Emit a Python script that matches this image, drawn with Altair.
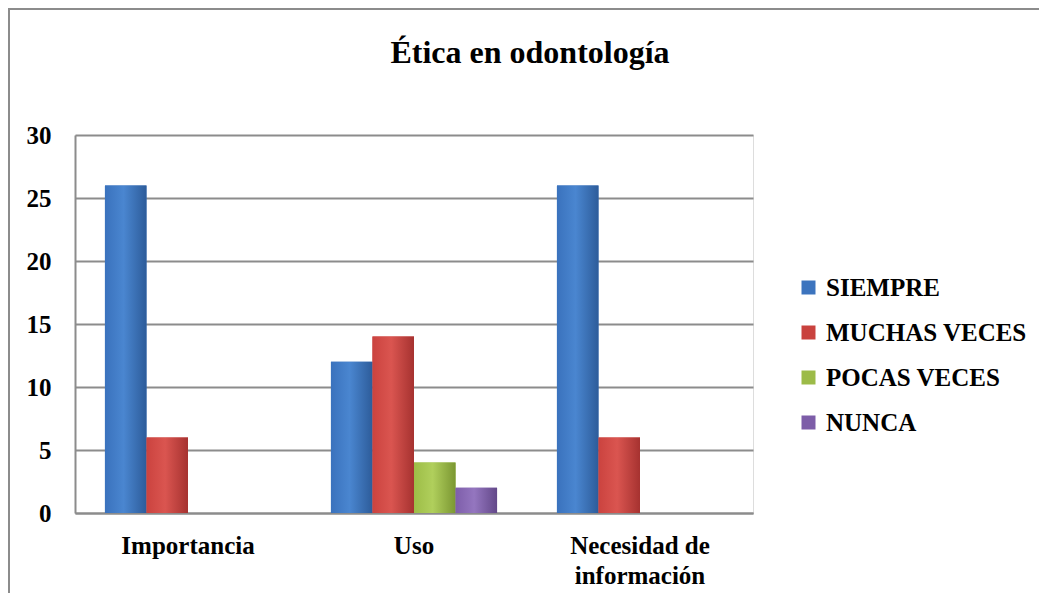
import altair as alt
import pandas as pd

categories = ["Importancia", "Uso", "Necesidad de información"]
series = ["SIEMPRE", "MUCHAS VECES", "POCAS VECES", "NUNCA"]
siempre = [26, 12, 26]
muchas_veces = [6, 14, 6]
pocas_veces = [0, 4, 0]
nunca = [0, 2, 0]
y_ticks = [0, 5, 10, 15, 20, 25, 30]
title_text = "Ética en odontología"

colors = ["#3C74BE", "#C9423E", "#9CBB48", "#7D5DA8"]
gradients = [
    ["#3A72BD", "#4A86D0", "#2D5C9A"],
    ["#CB433F", "#DA5550", "#A63230"],
    ["#9DBD47", "#B0CF5C", "#7B9732"],
    ["#7E5EAA", "#9476BF", "#634889"],
]

rows = []
for s, vals in zip(series, [siempre, muchas_veces, pocas_veces, nunca]):
    for c, v in zip(categories, vals):
        rows.append({"categoria": c, "serie": s, "valor": v})
df = pd.DataFrame(rows)

FONT = "Times New Roman"

x_enc = alt.X(
    "categoria:N",
    sort=categories,
    scale=alt.Scale(paddingInner=0.265, paddingOuter=0.1325),
    axis=alt.Axis(
        title=None,
        labelAngle=0,
        labelFont=FONT,
        labelFontSize=25,
        labelFontWeight="bold",
        labelColor="#000000",
        labelPadding=20,
        labelLineHeight=30,
        labelBaseline="top",
        labelLimit=0,
        labelExpr="datum.label == 'Necesidad de información' ? ['Necesidad de', 'información'] : datum.label",
        ticks=False,
        domainColor="#8c8c8c",
        domainWidth=2,
        grid=False,
    ),
)
xo_enc = alt.XOffset("serie:N", sort=series, scale=alt.Scale(domain=series, paddingInner=0, paddingOuter=0))
y_enc = alt.Y(
    "valor:Q",
    scale=alt.Scale(domain=[0, 30], nice=False),
    axis=alt.Axis(
        title=None,
        values=y_ticks,
        labelFont=FONT,
        labelFontSize=25,
        labelFontWeight="bold",
        labelColor="#000000",
        labelPadding=24,
        ticks=False,
        domainColor="#8c8c8c",
        domainWidth=2,
        gridColor="#8c8c8c",
        gridWidth=2,
    ),
)

base = alt.Chart(df).mark_bar().encode(
    x=x_enc,
    xOffset=xo_enc,
    y=y_enc,
    color=alt.Color(
        "serie:N",
        sort=series,
        scale=alt.Scale(domain=series, range=colors),
        legend=alt.Legend(
            title=None,
            orient="none",
            legendX=721,
            legendY=140,
            symbolType="square",
            symbolSize=196,
            symbolStrokeWidth=0,
            labelFont=FONT,
            labelFontSize=25,
            labelFontWeight="bold",
            labelColor="#000000",
            labelOffset=5,
            labelLimit=0,
            rowPadding=19,
            padding=0,
        ),
    ),
)

layers = [base]
for s, g in zip(series, gradients):
    grad = alt.Gradient(
        gradient="linear",
        x1=0, x2=1, y1=0, y2=0,
        stops=[
            alt.GradientStop(offset=0, color=g[0]),
            alt.GradientStop(offset=0.45, color=g[1]),
            alt.GradientStop(offset=1, color=g[2]),
        ],
    )
    layers.append(
        alt.Chart(df)
        .transform_filter(alt.datum.serie == s)
        .mark_bar(color=grad)
        .encode(x=x_enc, xOffset=xo_enc, y=y_enc)
    )

single = pd.DataFrame({"t": [title_text]})

border = alt.Chart(single).mark_rect(
    fill="transparent", stroke="#8c8c8c", strokeWidth=2
).encode(
    x=alt.value(-66), x2=alt.value(1100), y=alt.value(-126), y2=alt.value(700)
)

title = alt.Chart(single).mark_text(
    font=FONT, fontSize=32, fontWeight="bold", color="#000000",
    align="center", baseline="alphabetic",
).encode(
    x=alt.value(455), y=alt.value(-72), text="t:N"
)

chart = (
    alt.layer(*layers, border, title)
    .properties(
        width=678,
        height=378,
        autosize=alt.AutoSizeParams(type="none"),
        padding={"left": 67, "top": 127, "right": 286, "bottom": 80},
    )
    .configure_view(stroke=None)
    .configure(background="#ffffff")
)

chart.save("out.html", embed_options={"renderer": "svg", "actions": False})
